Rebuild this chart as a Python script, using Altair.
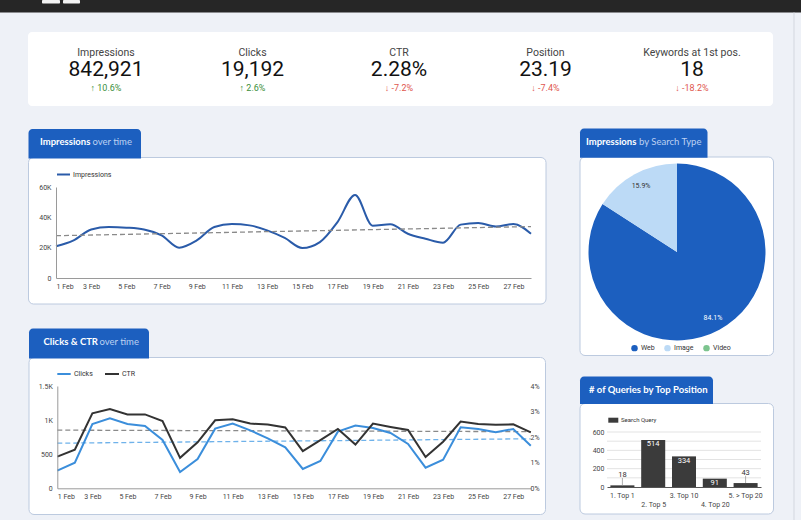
import json

import altair as alt
import pandas as pd

# ---------------- data ----------------
days = list(range(1, 29))  # 1..28 February
impressions = [20900, 24800, 32000, 33600, 33200, 32000, 28100, 20000, 24800, 33600,
               35600, 34700, 31400, 26400, 19800, 23700, 36900, 54800, 34500, 35500,
               29200, 25900, 23300, 35200, 36300, 34000, 35600, 29200]
clicks = [259, 376, 943, 1026, 943, 914, 708, 239, 430, 875, 948, 850, 733, 601,
          283, 401, 831, 919, 884, 811, 650, 303, 420, 894, 870, 821, 870, 625]
ctr_pct = [1.24, 1.51, 2.93, 3.10, 2.89, 2.89, 2.63, 1.19, 1.80, 2.66, 2.70, 2.53,
           2.49, 2.38, 1.45, 1.88, 2.32, 1.71, 2.53, 2.40, 2.28, 1.22, 1.82, 2.61,
           2.51, 2.48, 2.50, 2.19]
day_ticks = list(range(1, 28, 2))

kpi_names = ["Impressions", "Clicks", "CTR", "Position", "Keywords at 1st pos."]
kpi_values = ["842,921", "19,192", "2.28%", "23.19", "18"]
kpi_changes = [10.6, 2.6, -7.2, -7.4, -18.2]

search_types = ["Web", "Image", "Video"]
search_share = [84.1, 15.9, 0.0]

positions = ["1. Top 1", "2. Top 5", "3. Top 10", "4. Top 20", "5. > Top 20"]
queries = [18, 514, 334, 91, 43]

# ---------------- styling ----------------
W, H = 801, 520
BG = "#eef1f7"
TAB = "#1c5fbf"
FONT = "Roboto"
TAB_FONT = "Lato"
one = pd.DataFrame({"k": [0]})

# axes sit above the white card rectangles (zindex 1)
axis_style = dict(labelFont=FONT, labelFontSize=7, labelColor="#444", ticks=False,
                  grid=False, labelOverlap=False, zindex=1)


def box(x0, x1, y0, y1, **kw):
    return alt.Chart(one).mark_rect(**kw).encode(
        x=alt.value(x0), x2=alt.value(x1), y=alt.value(y0), y2=alt.value(y1))


def label(txt, x, y, size, color, weight="normal", font=FONT, align="left"):
    return alt.Chart(one).mark_text(
        text=txt, fontSize=size, color=color, fontWeight=weight, font=font,
        align=align, baseline="middle").encode(x=alt.value(x), y=alt.value(y))


def swatch(x0, x1, y, color):
    return alt.Chart(one).mark_rule(color=color, strokeWidth=2).encode(
        x=alt.value(x0), x2=alt.value(x1), y=alt.value(y))


card = dict(fill="white", stroke="#bccadf", strokeWidth=1, cornerRadius=5)
tab = dict(fill=TAB, cornerRadiusTopLeft=4, cornerRadiusTopRight=4)

# ---------------- page frame ----------------
frame = [
    box(0, W, 0, 12.5, fill="#262626"),
    box(42, 60, 0, 3.5, fill="#f2f2f2", cornerRadius=1),
    box(63, 80, 0, 3.5, fill="#f2f2f2", cornerRadius=1),
    alt.Chart(one).mark_rule(color="#d3d7df", strokeWidth=1).encode(
        x=alt.value(794), y=alt.value(12.5), y2=alt.value(H)),
    box(28, 773, 32, 106, fill="white", cornerRadius=4),
    box(28.5, 546, 157.5, 304, **card),
    box(28.5, 141, 129, 158.5, **tab),
    box(29, 545.5, 357.5, 514.5, **card),
    box(29, 149, 328.5, 358.5, **tab),
    box(580, 773.5, 157, 355.5, **card),
    box(580, 707.5, 128.5, 157.8, **tab),
    box(580, 773.5, 403.5, 514, **card),
    box(580, 713, 376.5, 404, **tab),
]

tab_titles = [
    label("Impressions", 40, 142, 9.5, "white", "bold", TAB_FONT),
    label("over time", 92.5, 142, 9.5, "#bcd1f2", "normal", TAB_FONT),
    label("Clicks & CTR", 43.5, 341.5, 9.5, "white", "bold", TAB_FONT),
    label("over time", 99.5, 341.5, 9.5, "#bcd1f2", "normal", TAB_FONT),
    label("Impressions", 586, 142, 9.5, "white", "bold", TAB_FONT),
    label("by Search Type", 639, 142, 9.5, "#bcd1f2", "normal", TAB_FONT),
    label("# of Queries by Top Position", 589, 389.5, 9.5, "white", "bold", TAB_FONT),
]

# ---------------- KPI scorecards ----------------
kpi_df = pd.DataFrame({"name": kpi_names, "value": kpi_values, "chg": kpi_changes})
kpi_x = alt.X("name:N", sort=kpi_names, axis=None,
              scale=alt.Scale(domain=kpi_names, range=[106, 692], type="point", padding=0))
kpi_base = alt.Chart(kpi_df)
kpis = [
    kpi_base.mark_text(fontSize=10.5, color="#444", font=FONT).encode(
        x=kpi_x, y=alt.value(52.5), text="name:N"),
    kpi_base.mark_text(fontSize=21, color="#111", font=FONT).encode(
        x=kpi_x, y=alt.value(70), text="value:N"),
    kpi_base.transform_calculate(
        chg_txt="datum.chg > 0 ? '\u2191 ' + datum.chg + '%' : '\u2193 ' + datum.chg + '%'"
    ).mark_text(fontSize=9, font=FONT).encode(
        x=kpi_x, y=alt.value(88), text="chg_txt:N",
        color=alt.condition("datum.chg > 0", alt.value("#3c8f3c"), alt.value("#e0574f"))),
]

# ---------------- Impressions over time ----------------
ts = pd.DataFrame({"day": days, "impressions": impressions, "clicks": clicks, "ctr": ctr_pct})

imp_x = alt.Scale(domain=[1, 28], range=[56, 531], nice=False, zero=False)
imp_y = alt.Scale(domain=[0, 60000], range=[278, 187], nice=False)

imp_line = alt.Chart(ts).mark_line(interpolate="monotone", color="#2a5ba9", strokeWidth=2).encode(
    x=alt.X("day:Q", scale=imp_x, title=None,
            axis=alt.Axis(orient="bottom", offset=278 - H, values=day_ticks,
                          labelExpr="datum.value + ' Feb'", domainColor="#9a9a9a",
                          labelPadding=4, **axis_style)),
    y=alt.Y("impressions:Q", scale=imp_y, title=None,
            axis=alt.Axis(orient="left", offset=-56, values=[0, 20000, 40000, 60000],
                          labelExpr="datum.value == 0 ? '0' : datum.value / 1000 + 'K'",
                          domainColor="#9a9a9a", labelPadding=5, **axis_style)),
)
imp_trend = alt.Chart(ts).transform_regression("day", "impressions").mark_line(
    color="#8a8a8a", strokeDash=[5, 3], strokeWidth=1.3).encode(
    x=alt.X("day:Q", scale=imp_x, axis=None),
    y=alt.Y("impressions:Q", scale=imp_y, axis=None))

imp_legend = [swatch(57, 70, 174.5, "#2a5ba9"), label("Impressions", 73, 174.5, 7, "#333")]

# ---------------- Clicks & CTR over time ----------------
ck_x = alt.Scale(domain=[1, 28], range=[57.3, 530.8], nice=False, zero=False)
ck_y = alt.Scale(domain=[0, 1500], range=[488.3, 386], nice=False)
ctr_y = alt.Scale(domain=[0, 4], range=[488.3, 386], nice=False)
CLICK_BLUE = "#3b8edb"

clicks_trend = alt.Chart(ts).transform_regression("day", "clicks").mark_line(
    color="#6fb2ea", strokeDash=[5, 3], strokeWidth=1.3).encode(
    x=alt.X("day:Q", scale=ck_x, axis=None),
    y=alt.Y("clicks:Q", scale=ck_y, axis=None))
ctr_trend = alt.Chart(ts).transform_regression("day", "ctr").mark_line(
    color="#8a8a8a", strokeDash=[5, 3], strokeWidth=1.3).encode(
    x=alt.X("day:Q", scale=ck_x, axis=None),
    y=alt.Y("ctr:Q", scale=ctr_y, axis=None))
clicks_line = alt.Chart(ts).mark_line(color=CLICK_BLUE, strokeWidth=2).encode(
    x=alt.X("day:Q", scale=ck_x, title=None,
            axis=alt.Axis(orient="bottom", offset=488.3 - H, values=day_ticks,
                          labelExpr="datum.value + ' Feb'", domainColor="#9a9a9a",
                          labelPadding=4, **axis_style)),
    y=alt.Y("clicks:Q", scale=ck_y, title=None,
            axis=alt.Axis(orient="left", offset=-57.3, values=[0, 500, 1000, 1500],
                          labelExpr="datum.value >= 1000 ? datum.value / 1000 + 'K' : datum.label",
                          domainColor="#9a9a9a", labelPadding=5, **axis_style)),
)
ctr_line = alt.Chart(ts).mark_line(color="#333333", strokeWidth=2).encode(
    x=alt.X("day:Q", scale=ck_x, axis=None),
    y=alt.Y("ctr:Q", scale=ctr_y, title=None,
            axis=alt.Axis(orient="right", offset=527 - W, values=[0, 1, 2, 3, 4],
                          labelExpr="datum.value + '%'", domain=False,
                          labelPadding=3, **axis_style)),
)
ck_legend = [
    swatch(57.3, 70.7, 374, CLICK_BLUE), label("Clicks", 74, 374, 7, "#333"),
    swatch(105, 119, 374, "#333333"), label("CTR", 122, 374, 7, "#333"),
]

# ---------------- Impressions by search type ----------------
pie_df = pd.DataFrame({"type": search_types, "share": search_share,
                       "idx": list(range(len(search_types)))})
pie_color = alt.Scale(domain=search_types, range=["#1c5fbf", "#bcdaf6", "#7cc48e"])
pie = alt.Chart(pie_df).mark_arc(radius=88.5).encode(
    theta=alt.Theta("share:Q", stack=True),
    order=alt.Order("idx:Q", sort="ascending"),
    color=alt.Color("type:N", scale=pie_color,
                    legend=alt.Legend(orient="none", legendX=631, legendY=344.5,
                                      direction="horizontal", symbolType="circle",
                                      symbolSize=42, symbolStrokeWidth=0, title=None,
                                      labelFont=FONT, labelFontSize=7, labelColor="#333",
                                      labelOffset=3, columnPadding=9, zindex=1)),
    x=alt.value(677), y=alt.value(252),
)
pie_text = alt.Chart(pie_df).transform_filter("datum.share > 0").transform_calculate(
    pct="datum.share + '%'").mark_text(radius=75, fontSize=7, font=FONT).encode(
    theta=alt.Theta("share:Q", stack=True),
    order=alt.Order("idx:Q", sort="ascending"),
    text="pct:N",
    color=alt.condition("datum.type == 'Web'", alt.value("white"), alt.value("#333")),
    x=alt.value(677), y=alt.value(252),
)

# ---------------- Queries by top position ----------------
pos_df = pd.DataFrame({"pos": positions, "n": queries})
bx = alt.Scale(domain=positions, range=[607, 761], paddingInner=0.22, paddingOuter=0.11)
by = alt.Scale(domain=[0, 600], range=[487, 432], nice=False)
upper_labels = json.dumps(positions[0::2])
lower_labels = json.dumps(positions[1::2])
BAR = "#3b3b3b"

grid_df = pd.DataFrame({"g": list(range(100, 601, 100))})
bar_grid = alt.Chart(grid_df).mark_rule(color="#e3e3e3", strokeWidth=1).encode(
    y=alt.Y("g:Q", scale=by, axis=None), x=alt.value(607), x2=alt.value(761))

bars = alt.Chart(pos_df).mark_bar(color=BAR).encode(
    x=alt.X("pos:N", scale=bx, sort=positions, title=None,
            axis=alt.Axis(orient="bottom", offset=487 - H, labelAngle=0,
                          labelExpr=f"indexof({upper_labels}, datum.value) >= 0 ? datum.label : ''",
                          domainColor="#555", labelPadding=4, **axis_style)),
    y=alt.Y("n:Q", scale=by, title=None,
            axis=alt.Axis(orient="left", offset=-607, values=[0, 200, 400, 600],
                          domain=False, labelPadding=3, **axis_style)),
)
bar_in = alt.Chart(pos_df).transform_filter("datum.n >= 60").mark_text(
    color="white", fontSize=7.5, font=FONT, baseline="middle", dy=4.5).encode(
    x=alt.X("pos:N", scale=bx, sort=positions, title=None,
            axis=alt.Axis(orient="bottom", offset=487 - H, labelAngle=0, domain=False,
                          labelExpr=f"indexof({lower_labels}, datum.value) >= 0 ? datum.label : ''",
                          labelPadding=13, **axis_style)),
    y=alt.Y("n:Q", scale=by, axis=None),
    text="n:Q",
)
small = alt.Chart(pos_df).transform_filter("datum.n < 60").transform_calculate(
    top="datum.n + 80")
bar_leader = small.mark_rule(color="#9a9a9a", strokeWidth=0.8).encode(
    x=alt.X("pos:N", scale=bx, sort=positions, axis=None),
    y=alt.Y("n:Q", scale=by, axis=None), y2="top:Q")
bar_out = small.mark_text(color="#333", fontSize=7.5, font=FONT, baseline="middle", dy=-3).encode(
    x=alt.X("pos:N", scale=bx, sort=positions, axis=None),
    y=alt.Y("top:Q", scale=by, axis=None),
    text="n:Q")
bar_legend = [box(608.3, 618.3, 417.7, 422.7, fill=BAR),
              label("Search Query", 621, 420.3, 6, "#333")]

# ---------------- assemble ----------------
layers = (frame + tab_titles + kpis
          + [imp_line, imp_trend] + imp_legend
          + [clicks_trend, ctr_trend, clicks_line, ctr_line] + ck_legend
          + [pie, pie_text]
          + [bar_grid, bars, bar_in, bar_leader, bar_out] + bar_legend)

chart = alt.layer(*layers).resolve_scale(
    x="independent", y="independent", color="independent", theta="independent"
).resolve_axis(x="independent", y="independent").resolve_legend(
    color="independent"
).properties(
    width=W, height=H, padding=0, autosize=alt.AutoSizeParams(type="none")
).configure(background=BG).configure_view(strokeWidth=0)

chart.save("out.html", embed_options={"renderer": "svg", "actions": False})
